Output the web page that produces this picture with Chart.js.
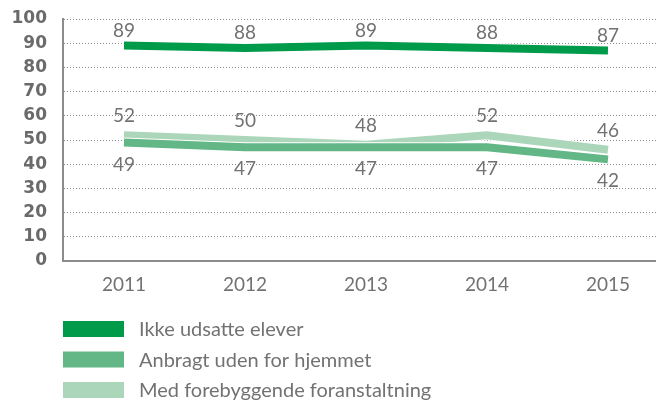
<!DOCTYPE html>
<html lang="da">
<head>
<meta charset="UTF-8">
<title>Andel elever</title>
<script src="https://cdn.jsdelivr.net/npm/chart.js"></script>
<style>
  html, body { margin: 0; padding: 0; background: #fff; }
  #wrap { width: 656px; height: 401px; }
</style>
</head>
<body>
<div id="wrap"><canvas id="graf"></canvas></div>
<script>
// data
const aar = [2011, 2012, 2013, 2014, 2015];
const serieNavne = ['Ikke udsatte elever', 'Anbragt uden for hjemmet', 'Med forebyggende foranstaltning'];
const ikkeUdsatte = [89, 88, 89, 88, 87];
const anbragt = [49, 47, 47, 47, 42];
const forebyggende = [52, 50, 48, 52, 46];
const yTicks = [0, 10, 20, 30, 40, 50, 60, 70, 80, 90, 100];

const farver = ['#009a4b', '#63b686', '#acd6b9'];
const graa = '#727272';

function punkter(vaerdier) {
  return vaerdier.map((v, i) => ({ x: aar[i], y: v }));
}

// hvid kant under hver linje, så linjerne adskilles
const hvidKant = {
  id: 'hvidKant',
  beforeDatasetDraw(chart, args) {
    const meta = args.meta;
    const ctx = chart.ctx;
    ctx.save();
    ctx.lineWidth = chart.data.datasets[args.index].borderWidth + 2;
    ctx.strokeStyle = '#ffffff';
    ctx.lineCap = 'butt';
    ctx.lineJoin = 'miter';
    ctx.beginPath();
    meta.data.forEach((p, i) => i ? ctx.lineTo(p.x, p.y) : ctx.moveTo(p.x, p.y));
    ctx.stroke();
    ctx.restore();
  }
};

// tal ved punkterne
const etiketter = {
  id: 'etiketter',
  afterDatasetsDraw(chart) {
    const ctx = chart.ctx;
    const forskyd = [-15, 22, -19];
    ctx.save();
    ctx.font = '19px Lato';
    ctx.fillStyle = graa;
    ctx.textAlign = 'center';
    ctx.textBaseline = 'middle';
    chart.data.datasets.forEach((ds, d) => {
      chart.getDatasetMeta(d).data.forEach((p, i) => {
        ctx.fillText(String(ds.data[i].y), p.x, p.y + forskyd[d]);
      });
    });
    ctx.restore();
  }
};

// forklaring under grafen
const forklaring = {
  id: 'forklaring',
  afterDraw(chart) {
    const ctx = chart.ctx;
    ctx.save();
    ctx.font = '20px Lato';
    ctx.textBaseline = 'middle';
    chart.data.datasets.forEach((ds, d) => {
      const y = 329 + d * 30.5;
      ctx.fillStyle = ds.borderColor;
      ctx.fillRect(63, y - 8, 61, 16);
      ctx.fillStyle = graa;
      ctx.fillText(ds.label, 139, y + 1);
    });
    ctx.restore();
  }
};

new Chart(document.getElementById('graf'), {
  type: 'line',
  data: {
    datasets: [ikkeUdsatte, anbragt, forebyggende].map((v, i) => ({
      label: serieNavne[i],
      data: punkter(v),
      borderColor: farver[i],
      backgroundColor: farver[i],
      borderWidth: 8,
      borderCapStyle: 'butt',
      borderJoinStyle: 'miter',
      pointRadius: 0,
      tension: 0
    }))
  },
  options: {
    responsive: true,
    maintainAspectRatio: false,
    animation: false,
    layout: { padding: { top: 19, right: 0, bottom: 100, left: 0 } },
    plugins: { legend: { display: false }, tooltip: { enabled: false } },
    scales: {
      x: {
        type: 'linear',
        min: 2010.496,
        max: 2015.397,
        afterBuildTicks: s => { s.ticks = aar.map(v => ({ value: v })); },
        afterFit: s => { s.height = 40; },
        grid: { display: false },
        border: { display: true, color: '#8c8c8c', width: 2 },
        ticks: { color: graa, font: { family: 'Lato', size: 19 }, padding: 4, maxRotation: 0, callback: v => String(v) }
      },
      y: {
        min: 0,
        max: 100,
        afterBuildTicks: s => { s.ticks = yTicks.map(v => ({ value: v })); },
        // fast bredde, og ingen ekstra luft over/under aksen
        afterFit: s => { s.width = 63; s.paddingTop = 0; s.paddingBottom = 0; },
        grid: { color: '#8a8a8a', lineWidth: 1, drawTicks: false },
        border: { display: true, color: '#8c8c8c', width: 2, dash: [1, 2] },
        ticks: { color: '#6a6a6a', font: { family: 'DejaVu Sans', size: 17, weight: 'bold' }, padding: 16 }
      }
    }
  },
  plugins: [hvidKant, etiketter, forklaring]
});
</script>
</body>
</html>
